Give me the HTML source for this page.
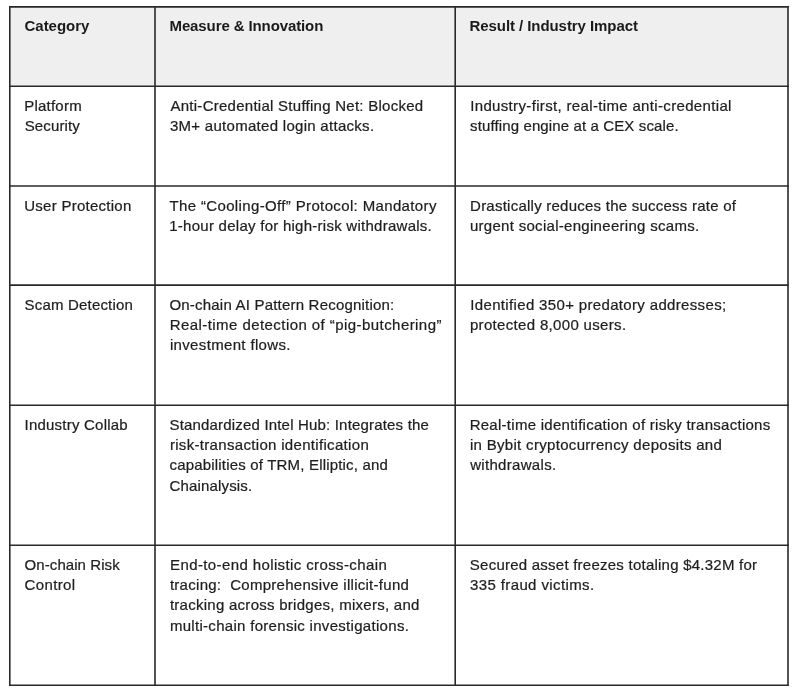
<!DOCTYPE html>
<html lang="en">
<head>
<meta charset="utf-8">
<title>Security measures table</title>
<style>
html,body{margin:0;padding:0;background:#fff;}
body{width:800px;height:699px;position:relative;overflow:hidden;font-family:"Liberation Sans",sans-serif;color:#1e1e1e;}
.tbl{position:absolute;left:0;top:0;width:800px;height:699px;}
.grid{position:absolute;left:0;top:0;}
.cell{position:absolute;}
.ln{position:absolute;white-space:pre;font-size:15.0px;line-height:20px;height:20px;-webkit-text-stroke:0.22px currentColor;}
.th .ln{font-weight:bold;color:#1a1a1a;font-size:15.0px;-webkit-text-stroke:0;}
</style>
</head>
<body>
<div class="tbl" role="table">
<svg class="grid" width="800" height="699" viewBox="0 0 800 699">
<rect x="9.8" y="6.85" width="778.2" height="79.35000000000001" fill="#efefef"/>
<g stroke="#292929" stroke-width="1.6" fill="none" stroke-linecap="square">
<line x1="9.8" y1="6.85" x2="788.0" y2="6.85"/>
<line x1="9.8" y1="86.2" x2="788.0" y2="86.2"/>
<line x1="9.8" y1="186.0" x2="788.0" y2="186.0"/>
<line x1="9.8" y1="285.1" x2="788.0" y2="285.1"/>
<line x1="9.8" y1="405.3" x2="788.0" y2="405.3"/>
<line x1="9.8" y1="545.2" x2="788.0" y2="545.2"/>
<line x1="9.8" y1="685.2" x2="788.0" y2="685.2"/>
<line x1="9.8" y1="6.85" x2="9.8" y2="685.2"/>
<line x1="155.0" y1="6.85" x2="155.0" y2="685.2"/>
<line x1="455.2" y1="6.85" x2="455.2" y2="685.2"/>
<line x1="788.0" y1="6.85" x2="788.0" y2="685.2"/>
</g>
</svg>
<div class="row th" role="row">
<div class="cell" role="columnheader" style="left:10.00px;top:7.00px;width:145.00px;height:79.00px"><span class="ln" style="left:14.58px;top:9.00px;letter-spacing:-0.048px">Category</span></div>
<div class="cell" role="columnheader" style="left:155.00px;top:7.00px;width:300.00px;height:79.00px"><span class="ln" style="left:14.50px;top:9.00px;letter-spacing:-0.107px">Measure &amp; Innovation</span></div>
<div class="cell" role="columnheader" style="left:455.00px;top:7.00px;width:333.00px;height:79.00px"><span class="ln" style="left:14.50px;top:9.00px;letter-spacing:-0.068px">Result / Industry Impact</span></div>
</div>
<div class="row" role="row">
<div class="cell" role="cell" style="left:10.00px;top:86.00px;width:145.00px;height:100.00px"><span class="ln" style="left:14.17px;top:10.00px;letter-spacing:0.237px">Platform</span><span class="ln" style="left:14.72px;top:30.00px;letter-spacing:0.118px">Security</span></div>
<div class="cell" role="cell" style="left:155.00px;top:86.00px;width:300.00px;height:100.00px"><span class="ln" style="left:15.47px;top:10.00px;letter-spacing:0.264px">Anti-Credential Stuffing Net: Blocked</span><span class="ln" style="left:14.93px;top:30.00px;letter-spacing:0.288px">3M+ automated login attacks.</span></div>
<div class="cell" role="cell" style="left:455.00px;top:86.00px;width:333.00px;height:100.00px"><span class="ln" style="left:15.22px;top:10.00px;letter-spacing:0.340px">Industry-first, real-time anti-credential</span><span class="ln" style="left:15.08px;top:30.00px;letter-spacing:0.121px">stuffing engine at a CEX scale.</span></div>
</div>
<div class="row" role="row">
<div class="cell" role="cell" style="left:10.00px;top:186.00px;width:145.00px;height:99.00px"><span class="ln" style="left:14.24px;top:10.00px;letter-spacing:0.261px">User Protection</span></div>
<div class="cell" role="cell" style="left:155.00px;top:186.00px;width:300.00px;height:99.00px"><span class="ln" style="left:14.46px;top:10.00px;letter-spacing:0.360px">The “Cooling-Off” Protocol: Mandatory</span><span class="ln" style="left:14.26px;top:30.00px;letter-spacing:0.261px">1-hour delay for high-risk withdrawals.</span></div>
<div class="cell" role="cell" style="left:455.00px;top:186.00px;width:333.00px;height:99.00px"><span class="ln" style="left:15.07px;top:10.00px;letter-spacing:0.240px">Drastically reduces the success rate of</span><span class="ln" style="left:14.93px;top:30.00px;letter-spacing:0.294px">urgent social-engineering scams.</span></div>
</div>
<div class="row" role="row">
<div class="cell" role="cell" style="left:10.00px;top:285.00px;width:145.00px;height:120.00px"><span class="ln" style="left:14.52px;top:10.00px;letter-spacing:0.190px">Scam Detection</span></div>
<div class="cell" role="cell" style="left:155.00px;top:285.00px;width:300.00px;height:120.00px"><span class="ln" style="left:14.44px;top:10.00px;letter-spacing:0.205px">On-chain AI Pattern Recognition:</span><span class="ln" style="left:14.67px;top:30.00px;letter-spacing:0.438px">Real-time detection of “pig-butchering”</span><span class="ln" style="left:14.90px;top:50.00px;letter-spacing:0.345px">investment flows.</span></div>
<div class="cell" role="cell" style="left:455.00px;top:285.00px;width:333.00px;height:120.00px"><span class="ln" style="left:15.27px;top:10.00px;letter-spacing:0.342px">Identified 350+ predatory addresses;</span><span class="ln" style="left:14.93px;top:30.00px;letter-spacing:0.327px">protected 8,000 users.</span></div>
</div>
<div class="row" role="row">
<div class="cell" role="cell" style="left:10.00px;top:405.00px;width:145.00px;height:140.00px"><span class="ln" style="left:14.52px;top:10.00px;letter-spacing:0.225px">Industry Collab</span></div>
<div class="cell" role="cell" style="left:155.00px;top:405.00px;width:300.00px;height:140.00px"><span class="ln" style="left:14.47px;top:10.00px;letter-spacing:0.182px">Standardized Intel Hub: Integrates the</span><span class="ln" style="left:14.90px;top:30.00px;letter-spacing:0.320px">risk-transaction identification</span><span class="ln" style="left:14.51px;top:50.00px;letter-spacing:0.183px">capabilities of TRM, Elliptic, and</span><span class="ln" style="left:14.39px;top:71.00px;letter-spacing:0.173px">Chainalysis.</span></div>
<div class="cell" role="cell" style="left:455.00px;top:405.00px;width:333.00px;height:140.00px"><span class="ln" style="left:14.67px;top:10.00px;letter-spacing:0.269px">Real-time identification of risky transactions</span><span class="ln" style="left:14.90px;top:30.00px;letter-spacing:0.315px">in Bybit cryptocurrency deposits and</span><span class="ln" style="left:15.17px;top:50.00px;letter-spacing:0.315px">withdrawals.</span></div>
</div>
<div class="row" role="row">
<div class="cell" role="cell" style="left:10.00px;top:545.00px;width:145.00px;height:140.00px"><span class="ln" style="left:14.59px;top:10.00px;letter-spacing:0.074px">On-chain Risk</span><span class="ln" style="left:14.54px;top:30.00px;letter-spacing:0.368px">Control</span></div>
<div class="cell" role="cell" style="left:155.00px;top:545.00px;width:300.00px;height:140.00px"><span class="ln" style="left:15.07px;top:10.00px;letter-spacing:0.387px">End-to-end holistic cross-chain</span><span class="ln" style="left:14.92px;top:30.00px;letter-spacing:0.277px">tracing:  Comprehensive illicit-fund</span><span class="ln" style="left:14.92px;top:50.00px;letter-spacing:0.267px">tracking across bridges, mixers, and</span><span class="ln" style="left:14.90px;top:71.00px;letter-spacing:0.301px">multi-chain forensic investigations.</span></div>
<div class="cell" role="cell" style="left:455.00px;top:545.00px;width:333.00px;height:140.00px"><span class="ln" style="left:14.82px;top:10.00px;letter-spacing:0.239px">Secured asset freezes totaling $4.32M for</span><span class="ln" style="left:14.93px;top:30.00px;letter-spacing:0.394px">335 fraud victims.</span></div>
</div>
</div>
</body>
</html>
